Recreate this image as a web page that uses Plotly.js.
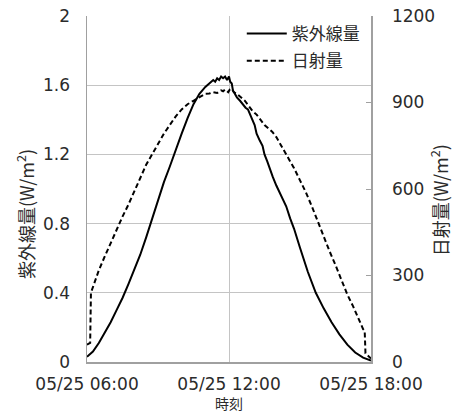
<!DOCTYPE html>
<html>
<head>
<meta charset="utf-8">
<script src="https://cdn.plot.ly/plotly-3.0.1.min.js"></script>
<style>html,body{margin:0;padding:0;background:#fff;}#chart{width:452px;height:412px;}</style>
</head>
<body>
<div id="chart"></div>
<script>
var day = '2020-05-25 ';
var xTickTimes = ['06:00', '12:00', '18:00'];
var xTickLabels = ['05/25 06:00', '05/25 12:00', '05/25 18:00'];

var uvTime = ['06:00','06:15','06:30','06:45','07:00','07:15','07:30','07:45','08:00','08:15','08:30','08:45','09:00','09:15','09:30','09:45','10:00','10:15','10:30','10:45','11:00','11:10','11:20','11:25','11:30','11:35','11:40','11:45','11:50','11:55','12:00','12:03','12:07','12:10','12:15','12:20','12:28','12:35','12:42','12:48','12:55','13:01','13:05','13:10','13:15','13:18','13:25','13:30','13:37','13:44','13:51','14:00','14:10','14:17','14:25','14:35','14:45','15:00','15:20','15:40','16:00','16:20','16:40','17:00','17:20','17:40','18:00'];
var uvValue = [0.03,0.06,0.11,0.17,0.23,0.30,0.37,0.45,0.53,0.62,0.72,0.83,0.93,1.04,1.13,1.23,1.32,1.41,1.49,1.55,1.59,1.61,1.63,1.62,1.64,1.63,1.65,1.64,1.65,1.63,1.65,1.62,1.61,1.57,1.55,1.53,1.51,1.49,1.47,1.46,1.42,1.39,1.37,1.32,1.30,1.28,1.25,1.20,1.16,1.11,1.07,1.02,0.97,0.94,0.90,0.83,0.77,0.66,0.52,0.40,0.31,0.23,0.16,0.10,0.055,0.025,0.008];

var solarTime = ['06:00','06:08','06:10','06:20','06:30','06:45','07:00','07:15','07:30','07:45','08:00','08:15','08:30','08:45','09:00','09:15','09:30','09:45','10:00','10:15','10:30','10:45','11:00','11:10','11:20','11:30','11:40','11:45','11:50','11:58','12:02','12:07','12:12','12:20','12:30','12:40','12:50','13:00','13:10','13:20','13:30','13:40','13:50','14:00','14:15','14:30','14:45','15:00','15:15','15:30','15:45','16:00','16:15','16:30','16:45','17:00','17:15','17:30','17:40','17:44','17:46','18:00'];
var solarValue = [60,66,240,282,318,366,414,456,504,546,594,642,684,720,756,792,822,852,876,894,906,918,930,931,936,933,942,939,945,936,945,948,936,930,918,906,888,870,858,840,822,810,798,780,744,708,672,630,588,540,486,432,384,336,282,234,192,144,114,108,30,12];

var seriesNames = ['紫外線量', '日射量'];
var axisTitles = ['紫外線量(W/m<sup>2</sup>)', '日射量(W/m<sup>2</sup>)', '時刻'];

function toDate(arr){ return arr.map(function(t){ return day + t; }); }

var fontFam = 'DejaVu Sans, "Noto Sans CJK JP", sans-serif';
var cjkFam = '"Noto Sans CJK JP", sans-serif';
var gridC = '#c4c4c4';
var lineC = '#a0a0a0';
var txtC = '#2b2b2b';

var traces = [
  {x: toDate(uvTime), y: uvValue, name: seriesNames[0], legendgroup: 'a', type: 'scatter', mode: 'lines',
   line: {color: '#000', width: 2}, yaxis: 'y'},
  {x: toDate(solarTime), y: solarValue, name: seriesNames[1], legendgroup: 'b', type: 'scatter', mode: 'lines',
   line: {color: '#000', width: 2, dash: '5px,3px'}, yaxis: 'y2'}
];

var layout = {
  width: 452, height: 412,
  margin: {l: 87, r: 81, t: 16, b: 50},
  paper_bgcolor: '#fff', plot_bgcolor: '#fff',
  font: {family: fontFam, size: 17, color: txtC},
  showlegend: true,
  legend: {x: 0.545, y: 1.0, xanchor: 'left', yanchor: 'top', bgcolor: '#fff',
           font: {size: 17, family: cjkFam, color: txtC}, tracegroupgap: 2, itemwidth: 40},
  xaxis: {type: 'date', range: [day + '06:00', day + '18:00'],
          tickvals: toDate(xTickTimes), ticktext: xTickLabels,
          showgrid: true, gridcolor: gridC, gridwidth: 1,
          showline: true, linecolor: lineC, linewidth: 1.5,
          ticks: '', ticklabelstandoff: 6, zeroline: false,
          tickfont: {size: 17, color: txtC}},
  yaxis: {range: [0, 2], dtick: 0.4, tick0: 0, tickformat: '.1~f',
          showgrid: true, gridcolor: gridC, gridwidth: 1,
          showline: true, linecolor: lineC, linewidth: 1.5, zeroline: false,
          ticks: '', ticklabelstandoff: 12, tickfont: {size: 17, color: txtC}},
  yaxis2: {range: [0, 1200], dtick: 300, tick0: 0, overlaying: 'y', side: 'right',
           showgrid: false, showline: true, linecolor: lineC, linewidth: 1.5, zeroline: false,
           ticks: 'inside', ticklen: 5, tickcolor: lineC, ticklabelstandoff: 16,
           tickfont: {size: 17, color: txtC}},
  annotations: [
    {text: axisTitles[0], xref: 'paper', yref: 'paper', x: -0.218, y: 0.428, xanchor: 'center', yanchor: 'middle',
     textangle: -90, showarrow: false, font: {size: 18, color: txtC, family: cjkFam}},
    {text: axisTitles[1], xref: 'paper', yref: 'paper', x: 1.240, y: 0.468, xanchor: 'center', yanchor: 'middle',
     textangle: -90, showarrow: false, font: {size: 18, color: txtC, family: cjkFam}},
    {text: axisTitles[2], xref: 'paper', yref: 'paper', x: 0.5, y: -0.119, xanchor: 'center', yanchor: 'middle',
     showarrow: false, font: {size: 14, color: txtC, family: cjkFam}}
  ]
};

Plotly.newPlot('chart', traces, layout, {displayModeBar: false, staticPlot: true});
</script>
</body>
</html>
